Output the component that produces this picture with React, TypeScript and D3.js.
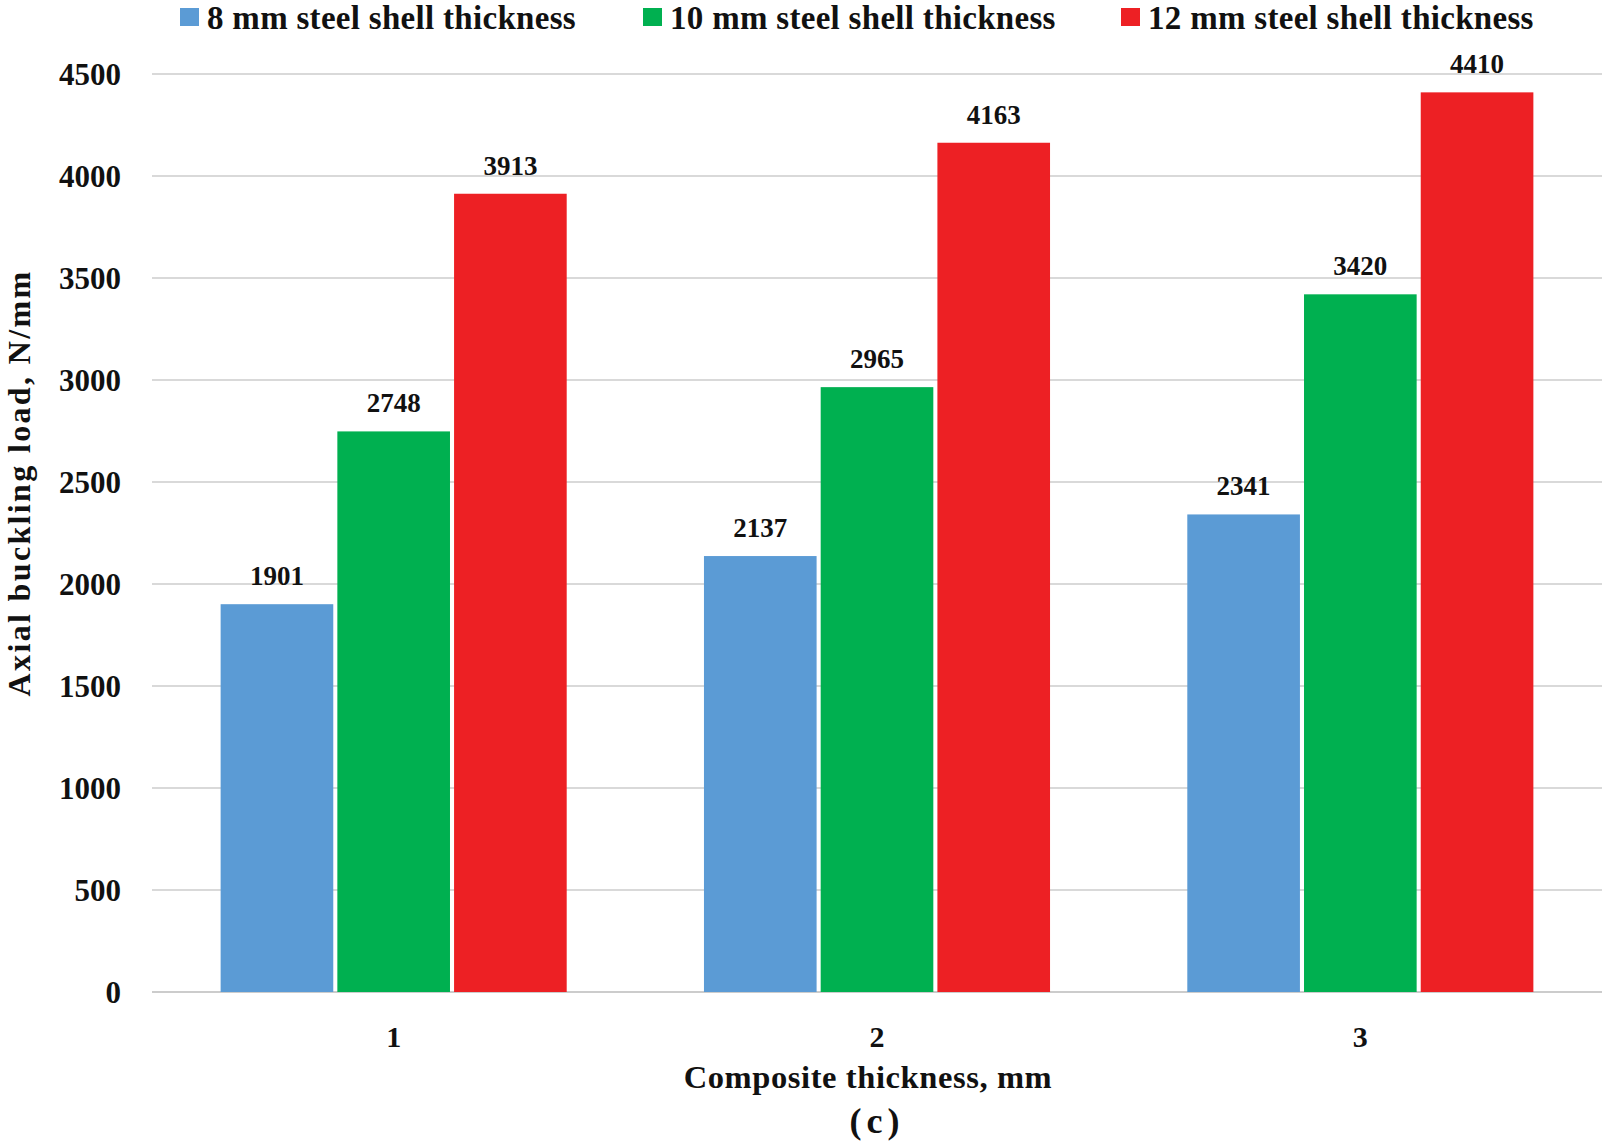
import React from "react";
import * as d3 from "d3";

// chart data
const categories = ["1", "2", "3"];
const seriesNames = [
  "8 mm steel shell thickness",
  "10 mm steel shell thickness",
  "12 mm steel shell thickness",
];
const seriesColors = ["#5B9BD5", "#00B050", "#ED2024"];
const steel8 = [1901, 2137, 2341];
const steel10 = [2748, 2965, 3420];
const steel12 = [3913, 4163, 4410];
const yTicks = [0, 500, 1000, 1500, 2000, 2500, 3000, 3500, 4000, 4500];

const seriesValues = [steel8, steel10, steel12];

const W = 1605;
const H = 1145;
const margin = { top: 74, right: 3, bottom: 153, left: 152 };
const font = "'Liberation Serif', 'DejaVu Serif', serif";

export default function App() {
  const plotBottom = H - margin.bottom;
  const plotRight = W - margin.right;

  const y = d3.scaleLinear().domain([0, 4500]).range([plotBottom, margin.top]);

  const x0 = d3
    .scaleBand<string>()
    .domain(categories)
    .range([margin.left, plotRight])
    .paddingInner(0.284)
    .paddingOuter(0.142);

  const x1 = d3
    .scaleBand<number>()
    .domain(d3.range(seriesNames.length))
    .range([0, x0.bandwidth()])
    .paddingInner(0.035);

  // legend item x positions (square left edge)
  const legendX = [180, 643, 1121];

  return (
    <svg
      width={W}
      height={H}
      style={{ position: "absolute", left: 0, top: 0, background: "#fff" }}
      fontFamily={font}
      fontWeight="bold"
    >
      {/* grid lines */}
      {yTicks.map((t) => (
        <line
          key={t}
          x1={margin.left}
          x2={plotRight}
          y1={y(t)}
          y2={y(t)}
          stroke={t === 0 ? "#cccccc" : "#d9d9d9"}
          strokeWidth={2}
        />
      ))}

      {/* y tick labels */}
      {yTicks.map((t) => (
        <text
          key={"yl" + t}
          x={121}
          y={y(t)}
          dy="0.35em"
          textAnchor="end"
          fontSize={31}
          fill="#111"
        >
          {t}
        </text>
      ))}

      {/* bars */}
      {categories.map((c, ci) => (
        <g key={c} transform={`translate(${x0(c)},0)`}>
          {seriesValues.map((vals, si) => (
            <g key={si}>
              <rect
                x={x1(si)}
                y={y(vals[ci])}
                width={x1.bandwidth()}
                height={plotBottom - y(vals[ci])}
                fill={seriesColors[si]}
              />
              <text
                x={(x1(si) as number) + x1.bandwidth() / 2}
                y={y(vals[ci]) - 19}
                textAnchor="middle"
                fontSize={27}
                fill="#111"
              >
                {vals[ci]}
              </text>
            </g>
          ))}
        </g>
      ))}

      {/* x tick labels */}
      {categories.map((c) => (
        <text
          key={"xl" + c}
          x={(x0(c) as number) + x0.bandwidth() / 2}
          y={1047}
          textAnchor="middle"
          fontSize={30}
          fill="#111"
        >
          {c}
        </text>
      ))}

      {/* axis titles */}
      <text
        x={868}
        y={1088}
        textAnchor="middle"
        fontSize={32.5}
        letterSpacing={0.6}
        fill="#111"
      >
        Composite thickness, mm
      </text>
      <text
        x={877}
        y={1133}
        textAnchor="middle"
        fontSize={36}
        letterSpacing={5}
        fill="#111"
      >
        (c)
      </text>
      <text
        transform={`translate(30,483) rotate(-90)`}
        textAnchor="middle"
        fontSize={32}
        letterSpacing={2.35}
        fill="#111"
      >
        Axial buckling load, N/mm
      </text>

      {/* legend */}
      {seriesNames.map((name, i) => (
        <g key={name} transform={`translate(${legendX[i]},0)`}>
          <rect x={0} y={8} width={19} height={18} fill={seriesColors[i]} />
          <text x={27} y={28.5} fontSize={33} letterSpacing={0.3} fill="#111">
            {name}
          </text>
        </g>
      ))}
    </svg>
  );
}
